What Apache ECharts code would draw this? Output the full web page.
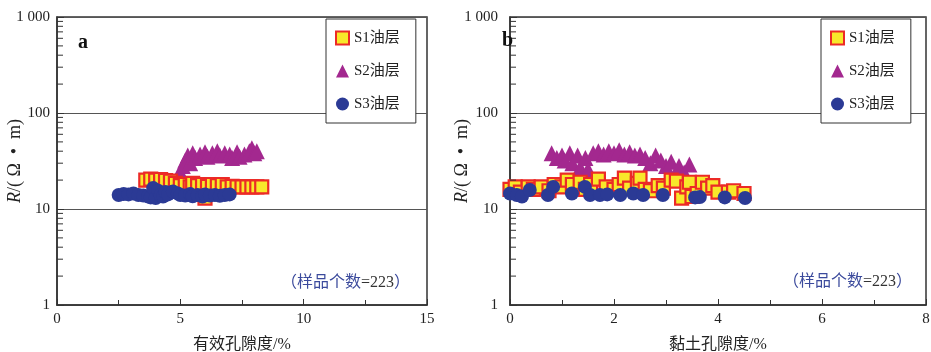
<!DOCTYPE html>
<html>
<head>
<meta charset="utf-8">
<script src="https://cdn.jsdelivr.net/npm/echarts@6/dist/echarts.min.js"></script>
<style>
  html, body { margin: 0; padding: 0; background: #fff; }
  #main { width: 931px; height: 352px; }
</style>
</head>
<body>
<div id="main"></div>
<script>
// panel a: effective porosity (%) vs resistivity
const s1Porosity = [[3.6,20],[3.8,20.5],[4.0,20],[4.2,20.3],[4.4,19.8],[4.6,19.5],[4.8,18.5],[5.0,17.5],[5.2,18],[5.4,17],[5.5,18.5],[5.7,17.5],[5.9,18],[6.0,13],[6.1,17.2],[6.3,18],[6.5,17.5],[6.7,18],[6.9,17],[7.1,17.2],[7.3,17],[7.5,17],[7.7,17],[7.9,17],[8.1,17],[8.3,17]];
const s2Porosity = [[5.0,24],[5.1,28],[5.2,32],[5.3,36],[5.4,30],[5.5,38],[5.6,34],[5.8,37],[6.0,39],[6.1,35],[6.3,38],[6.5,40],[6.6,36],[6.8,38],[7.0,37],[7.1,34],[7.3,39],[7.4,35],[7.6,37],[7.8,40],[7.9,43],[8.0,38],[8.1,40]];
const s3Porosity = [[2.5,14],[2.7,14.3],[2.9,14.2],[3.1,14.5],[3.3,14],[3.5,13.8],[3.7,13.5],[3.8,13.2],[3.9,16.5],[4.0,13],[4.1,15.5],[4.2,14],[4.3,13.5],[4.4,15],[4.5,14.2],[4.7,15.2],[4.9,14.5],[5.0,14],[5.2,13.8],[5.4,14.3],[5.5,13.6],[5.7,14],[5.9,13.5],[6.0,14.2],[6.2,13.8],[6.4,14],[6.6,13.7],[6.8,14],[7.0,14.2]];

// panel b: clay porosity (%) vs resistivity
const s1Clay = [[0.0,16],[0.1,17],[0.2,15],[0.35,17],[0.45,16],[0.6,17],[0.75,15.5],[0.85,18],[1.0,17],[1.1,20],[1.2,18],[1.35,19],[1.45,16],[1.55,18],[1.7,20.5],[1.85,17],[2.0,16],[2.1,18],[2.2,21],[2.3,16.5],[2.45,18.5],[2.5,21],[2.6,16],[2.7,15.5],[2.85,17.5],[2.95,16.5],[3.1,20],[3.2,19.5],[3.3,13],[3.4,17],[3.45,19],[3.5,13.5],[3.6,14.5],[3.7,19],[3.8,16.5],[3.9,17.5],[4.0,15],[4.2,15],[4.3,15.5],[4.5,14.5]];
const s2Clay = [[0.8,38],[0.9,34],[1.0,36],[1.05,32],[1.15,38],[1.2,30],[1.3,36],[1.35,27],[1.45,34],[1.5,26],[1.6,38],[1.7,40],[1.8,37],[1.9,40],[2.0,38],[2.1,41],[2.2,37],[2.3,39],[2.4,36],[2.5,37],[2.6,34],[2.7,30],[2.8,36],[2.9,32],[3.0,28],[3.1,31],[3.25,28],[3.35,24],[3.45,29]];
const s3Clay = [[0.0,14.5],[0.13,14],[0.23,13.5],[0.38,15.8],[0.73,14],[0.83,17],[1.19,14.5],[1.44,17],[1.54,14],[1.73,14],[1.87,14.2],[2.12,14],[2.37,14.5],[2.56,14],[2.94,14],[3.56,13.2],[3.65,13.3],[4.13,13.2],[4.52,13]];

const seriesNames = ['S1油层', 'S2油层', 'S3油层'];
const yMinorTicks = [2,3,4,5,6,7,8,9,20,30,40,50,60,70,80,90,200,300,400,500,600,700,800,900];
const sampleLabel = '样品个数';
const sampleCount = '=223';

const FONT = '"Liberation Serif", "Noto Sans CJK SC", serif';
const squareStyle = { color: '#f8e82a', borderColor: '#ec2a26', borderWidth: 2.2, opacity: 1 };
const triStyle = { color: '#a3288f', opacity: 1 };
const dotStyle = { color: '#2b3a95', opacity: 1 };

function yAxisCfg(gap, labelMargin) {
  return {
    type: 'log', logBase: 10, min: 1, max: 1000,
    name: '{i|R}/( Ω  •  m)', nameLocation: 'middle', nameGap: gap, nameRotate: 90,
    nameMoveOverlap: false,
    nameTextStyle: { fontFamily: FONT, fontSize: 18, color: '#222',
      rich: { i: { fontFamily: FONT, fontSize: 18, fontStyle: 'italic', color: '#222' } } },
    axisLine: { show: true, lineStyle: { color: '#333', width: 1.5 } },
    axisTick: { inside: true, length: 7, lineStyle: { color: '#333' } },
    axisLabel: { fontFamily: FONT, fontSize: 15, color: '#222', margin: labelMargin,
      formatter: v => v === 1000 ? '1 000' : String(v) },
    splitLine: { show: true, lineStyle: { color: '#555', width: 1 } }
  };
}
function xAxisCfg(max, interval, name, idx) {
  return {
    type: 'value', min: 0, max: max, interval: interval, gridIndex: idx,
    name: name, nameLocation: 'middle', nameGap: 32,
    nameTextStyle: { fontFamily: FONT, fontSize: 16, color: '#222' },
    axisLine: { show: true, lineStyle: { color: '#333', width: 1.5 } },
    axisTick: { inside: true, length: 6, lineStyle: { color: '#333' } },
    minorTick: { show: true, splitNumber: 2, length: 5, lineStyle: { color: '#333' } },
    axisLabel: { fontFamily: FONT, fontSize: 15, color: '#222', margin: 7 },
    splitLine: { show: false }
  };
}
function scatter(name, data, idx, symbol, size, style) {
  return { name: name, type: 'scatter', xAxisIndex: idx, yAxisIndex: idx,
    symbol: symbol, symbolSize: size, itemStyle: style, data: data, silent: true };
}
function minorTicks(idx) {
  return {
    type: 'custom', xAxisIndex: idx, yAxisIndex: idx, silent: true, clip: false, z: 5,
    data: yMinorTicks.map(v => [0, v]),
    renderItem(params, api) {
      const p = api.coord([0, api.value(1)]);
      return { type: 'line', shape: { x1: p[0], y1: p[1], x2: p[0] + 6, y2: p[1] },
        style: { stroke: '#333', lineWidth: 1 } };
    }
  };
}
function legendCfg(left) {
  return {
    left: left, top: 19, orient: 'vertical', data: seriesNames,
    itemWidth: 13, itemHeight: 13, itemGap: 15,
    backgroundColor: '#fff', borderColor: '#333', borderWidth: 1,
    padding: [10, 16, 10, 9], selectedMode: false, z: 10,
    textStyle: { fontFamily: FONT, fontSize: 15, color: '#222', lineHeight: 18 }
  };
}
function noteText(left, top) {
  return { type: 'text', left: left, top: top, z: 20,
    style: { text: '{b|（' + sampleLabel + '}{d|' + sampleCount + '}{b|）}',
      rich: {
        b: { fontFamily: FONT, fontSize: 16, fill: '#3b4a9c' },
        d: { fontFamily: FONT, fontSize: 16, fill: '#333' }
      } } };
}

const chart = echarts.init(document.getElementById('main'));
chart.setOption({
  animation: false,
  backgroundColor: '#fff',
  grid: [
    { left: 57, top: 17, width: 370, height: 288, outerBoundsMode: 'none', containLabel: false,
      show: true, borderColor: '#333', borderWidth: 1.5 },
    { left: 510, top: 17, width: 416, height: 288, outerBoundsMode: 'none', containLabel: false,
      show: true, borderColor: '#333', borderWidth: 1.5 }
  ],
  xAxis: [xAxisCfg(15, 5, '有效孔隙度/%', 0), xAxisCfg(8, 2, '黏土孔隙度/%', 1)],
  yAxis: [Object.assign(yAxisCfg(33, 7), { gridIndex: 0 }), Object.assign(yAxisCfg(39, 12), { gridIndex: 1 })],
  legend: [legendCfg(326), legendCfg(821)],
  series: [
    scatter(seriesNames[1], s2Porosity, 0, 'triangle', 16, triStyle),
    scatter(seriesNames[0], s1Porosity, 0, 'rect', 13, squareStyle),
    scatter(seriesNames[2], s3Porosity, 0, 'circle', 14, dotStyle),
    scatter(seriesNames[1], s2Clay, 1, 'triangle', 16, triStyle),
    scatter(seriesNames[0], s1Clay, 1, 'rect', 13, squareStyle),
    scatter(seriesNames[2], s3Clay, 1, 'circle', 14, dotStyle),
    minorTicks(0), minorTicks(1)
  ],
  graphic: [
    { type: 'text', left: 78, top: 33, z: 20, style: { text: 'a', fontFamily: FONT, fontSize: 20, fontWeight: 'bold', fill: '#111' } },
    { type: 'text', left: 502, top: 31, z: 20, style: { text: 'b', fontFamily: FONT, fontSize: 20, fontWeight: 'bold', fill: '#111' } },
    noteText(281, 275),
    noteText(783, 274)
  ]
});
</script>
</body>
</html>
